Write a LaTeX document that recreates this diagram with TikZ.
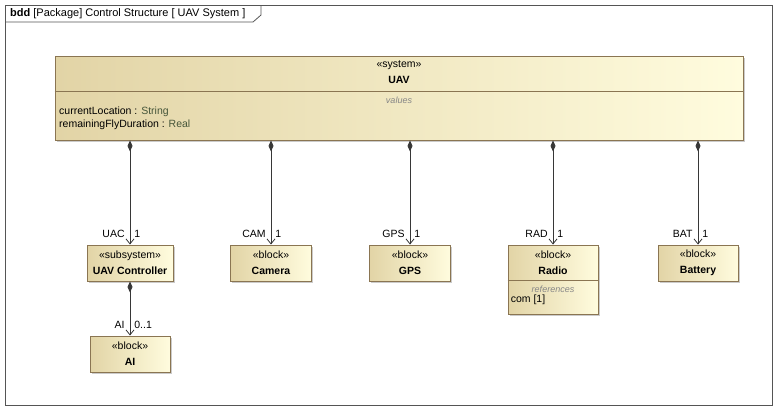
\documentclass[tikz,border=0pt]{standalone}
\usepackage{fontspec}
\setmainfont{Liberation Sans}
\usetikzlibrary{positioning,arrows.meta,shadows}

\definecolor{blktan}{RGB}{226,212,166}
\definecolor{blkcream}{RGB}{255,252,222}
\definecolor{blkedge}{RGB}{138,117,82}
\definecolor{linegray}{RGB}{55,55,55}
\definecolor{framegray}{RGB}{85,85,85}
\definecolor{typegreen}{RGB}{70,86,58}
\definecolor{compgray}{RGB}{135,135,135}

\tikzset{
  blk/.style={draw=blkedge, line width=0.9pt, left color=blktan, right color=blkcream,
    drop shadow={shadow xshift=1.6pt, shadow yshift=-1.6pt, fill=black!45, opacity=0.45},
    inner sep=0pt, font=\fontsize{10.5}{16}\selectfont, align=center},
  smallblk/.style={blk, minimum height=36},
  comptitle/.style={font=\fontsize{9}{10}\selectfont\itshape, text=compgray, inner sep=0pt},
  attr/.style={font=\fontsize{10.5}{13}\selectfont, inner sep=0pt, anchor=west},
  comp/.style={draw=linegray, line width=0.8pt,
    {Diamond[length=11pt,width=5pt,fill=linegray]}-{Straight Barb[length=5pt,width=8pt]}},
  rolel/.style={font=\fontsize{10.5}{12}\selectfont, inner sep=0pt, anchor=base east, xshift=-5pt, yshift=7pt},
  roler/.style={font=\fontsize{10.5}{12}\selectfont, inner sep=0pt, anchor=base west, xshift=4pt, yshift=7pt},
}

\begin{document}
\begin{tikzpicture}[x=1pt, y=-1pt]
  \useasboundingbox (0,0) rectangle (781,410);

  % frame
  \draw[framegray, line width=0.8pt] (5,5) rectangle (772,405);
  \draw[framegray, line width=0.8pt] (5,22) -- (253,22) -- (261,15) -- (261,5);
  \node[anchor=west, inner sep=0pt, font=\fontsize{11}{12}\selectfont] (title) at (10,13.5)
    {\textbf{bdd} [Package] Control Structure [ UAV System ]};

  % system block
  \node[blk, minimum width=688, minimum height=84] (uav) at (399,98) {};
  \draw[blkedge, line width=0.9pt] ([yshift=-36pt]uav.north west) -- ([yshift=-36pt]uav.north east);
  \node[font=\fontsize{10.5}{16}\selectfont, align=center, inner sep=0pt] (uavname)
    at ([yshift=-17pt]uav.north) {«system»\\\textbf{UAV}};
  \node[comptitle] (uavvalues) at ([yshift=-45pt]uav.north) {values};
  \node[attr] (loc) at (59,112) {currentLocation : \textcolor{typegreen}{String}};
  \node[attr] (fly) at (59,125) {remainingFlyDuration : \textcolor{typegreen}{Real}};

  % parts
  \node[smallblk, minimum width=86] (uac) at (130,263) {«subsystem»\\\textbf{UAV Controller}};
  \node[smallblk, minimum width=81] (cam) at (271,263) {«block»\\\textbf{Camera}};
  \node[smallblk, minimum width=81] (gps) at (410,263) {«block»\\\textbf{GPS}};
  \node[blk, minimum width=90, minimum height=69] (rad) at (553,279.5) {};
  \node[font=\fontsize{10.5}{16}\selectfont, align=center, inner sep=0pt] (radname)
    at ([yshift=-18pt]rad.north) {«block»\\\textbf{Radio}};
  \draw[blkedge, line width=0.9pt] ([yshift=-36pt]rad.north west) -- ([yshift=-36pt]rad.north east);
  \node[comptitle] (radrefs) at ([yshift=-45pt]rad.north) {references};
  \node[attr] (com) at ([xshift=3pt,yshift=-55pt]rad.north west) {com [1]};
  \node[smallblk, minimum width=80] (bat) at (698,263) {«block»\\\textbf{Battery}};
  \node[smallblk, minimum width=80] (ai) at (130,354) {«block»\\\textbf{AI}};

  % compositions
  \draw[comp] (uac.north |- uav.south) -- (uac.north) node[rolel] {UAC} node[roler] {1};
  \draw[comp] (cam.north |- uav.south) -- (cam.north) node[rolel] {CAM} node[roler] {1};
  \draw[comp] (gps.north |- uav.south) -- (gps.north) node[rolel] {GPS} node[roler] {1};
  \draw[comp] (rad.north |- uav.south) -- (rad.north) node[rolel] {RAD} node[roler] {1};
  \draw[comp] (bat.north |- uav.south) -- (bat.north) node[rolel] {BAT} node[roler] {1};
  \draw[comp] (uac.south) -- (ai.north) node[rolel] {AI} node[roler] {0..1};
\end{tikzpicture}
\end{document}
